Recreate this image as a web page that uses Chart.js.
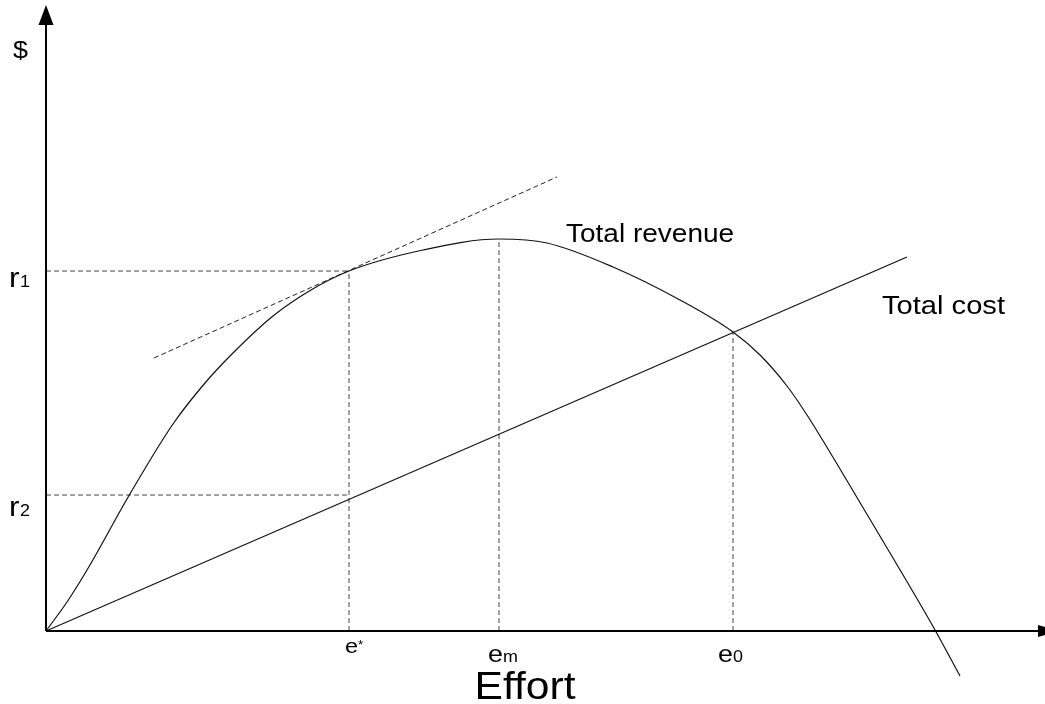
<!DOCTYPE html>
<html>
<head>
<meta charset="utf-8">
<script src="https://cdn.jsdelivr.net/npm/chart.js@4"></script>
<style>
  html, body { margin: 0; padding: 0; background: #fff; }
  #wrap { width: 1045px; height: 704px; position: relative; }
</style>
</head>
<body>
<div id="wrap"><canvas id="c"></canvas></div>
<script>
// total revenue curve (effort units / dollar units)
const effort  = [0, 21, 44, 81, 127, 159, 187, 227, 265, 303, 377, 453, 501, 567, 634, 687, 714, 741, 761, 797, 847, 889, 914];
const revenue = [0, 29, 66, 132, 207, 248, 278, 315, 341, 360, 381, 392, 388, 364, 331, 299, 276, 245, 216, 157, 73, 1, -45];

// total cost straight line
const costEffort = [0, 861];
const cost = [0, 374];

// dashed tangent at e*
const tangentEffort = [108, 511];
const tangent = [273, 454];

// x ticks: e*, em, e0 and where their guides stop
const xTickValues = [303, 453, 687];
const xTickMain = ['e', 'e', 'e'];
const xTickSub = ['*', 'm', '0'];
const xGuideTops = [360, 392, 299];

// y ticks: r1, r2
const yTickValues = [360, 136];
const yTickMain = ['r', 'r'];
const yTickSub = ['1', '2'];

const FONT = '"Liberation Sans", Arial, sans-serif';

function pts(xs, ys) {
    return xs.map((x, i) => ({ x: x, y: ys[i] }));
}

const guideStyle = {
    borderColor: '#444',
    borderWidth: 1,
    borderDash: [5, 3],
    pointRadius: 0,
    showLine: true,
    fill: false
};

const datasets = [
    {
        label: 'Total revenue',
        data: pts(effort, revenue),
        borderColor: '#111',
        borderWidth: 1.2,
        pointRadius: 0,
        showLine: true,
        cubicInterpolationMode: 'monotone'
    },
    {
        label: 'Total cost',
        data: pts(costEffort, cost),
        borderColor: '#111',
        borderWidth: 1.2,
        pointRadius: 0,
        showLine: true
    },
    Object.assign({ label: 'tangent', data: pts(tangentEffort, tangent) }, guideStyle, { borderColor: '#222' })
];

// vertical guides from the axis up to the curve
xTickValues.forEach((v, i) => {
    datasets.push(Object.assign({ label: 'v' + i, data: [{ x: v, y: 0 }, { x: v, y: xGuideTops[i] }] }, guideStyle));
});
// horizontal guides from the y axis to the e* guide
yTickValues.forEach((v, i) => {
    datasets.push(Object.assign({ label: 'h' + i, data: [{ x: 0, y: v }, { x: xTickValues[0], y: v }] }, guideStyle));
});

function txt(ctx, s, x, y, size, align) {
    ctx.save();
    ctx.font = size + 'px ' + FONT;
    ctx.fillStyle = '#000';
    ctx.textBaseline = 'alphabetic';
    ctx.textAlign = align || 'left';
    ctx.translate(x, y);
    ctx.scale(1.12, 1); // the original lettering is a bit wide
    ctx.fillText(s, 0, 0);
    ctx.restore();
}

const axesPlugin = {
    id: 'axesPlugin',
    afterDatasetsDraw: function(chart) {
        const ctx = chart.ctx;
        const xs = chart.scales.x, ys = chart.scales.y;
        const ox = xs.getPixelForValue(0), oy = ys.getPixelForValue(0);
        const topY = ys.getPixelForValue(626);
        const endX = xs.getPixelForValue(1012);

        ctx.save();
        ctx.strokeStyle = '#000';
        ctx.fillStyle = '#000';
        ctx.lineWidth = 2;
        // y axis
        ctx.beginPath();
        ctx.moveTo(ox, oy);
        ctx.lineTo(ox, topY + 15);
        ctx.stroke();
        ctx.beginPath();
        ctx.moveTo(ox, topY);
        ctx.lineTo(ox - 7.5, topY + 20);
        ctx.lineTo(ox + 7.5, topY + 20);
        ctx.closePath();
        ctx.fill();
        // x axis
        ctx.beginPath();
        ctx.moveTo(ox, oy);
        ctx.lineTo(endX - 15, oy);
        ctx.stroke();
        ctx.beginPath();
        ctx.moveTo(endX, oy);
        ctx.lineTo(endX - 20, oy - 6);
        ctx.lineTo(endX - 20, oy + 6);
        ctx.closePath();
        ctx.fill();
        ctx.restore();

        // x tick labels
        const xOff = [-4, -11, -15];
        const xBase = [653, 662, 662];
        const mainSize = [21, 24, 24];
        xTickValues.forEach((v, i) => {
            const px = xs.getPixelForValue(v) + xOff[i];
            txt(ctx, xTickMain[i], px, xBase[i], mainSize[i]);
            if (xTickSub[i] === '*') {
                txt(ctx, '*', px + 13, xBase[i] - 4, 12);
            } else {
                txt(ctx, xTickSub[i], px + 15, xBase[i], 16);
            }
        });

        // y tick labels
        yTickValues.forEach((v, i) => {
            const py = ys.getPixelForValue(v) + (i === 0 ? 16 : 21);
            txt(ctx, yTickMain[i], 9, py, 28);
            txt(ctx, yTickSub[i], 20, py, 16);
        });

        // axis titles and curve names
        txt(ctx, '$', xs.getPixelForValue(-33), ys.getPixelForValue(573), 24);
        txt(ctx, 'Effort', xs.getPixelForValue(479), ys.getPixelForValue(-68), 38, 'center');
        txt(ctx, 'Total revenue', xs.getPixelForValue(520), ys.getPixelForValue(389), 25);
        txt(ctx, 'Total cost', xs.getPixelForValue(836), ys.getPixelForValue(317), 26);
    }
};

new Chart(document.getElementById('c').getContext('2d'), {
    type: 'scatter',
    data: { datasets: datasets },
    options: {
        responsive: true,
        maintainAspectRatio: false,
        animation: false,
        events: [],
        layout: { padding: 0 },
        scales: {
            x: { type: 'linear', min: -46, max: 999, display: false },
            y: { type: 'linear', min: -73, max: 631, display: false }
        },
        plugins: {
            legend: { display: false },
            tooltip: { enabled: false }
        }
    },
    plugins: [axesPlugin]
});
</script>
</body>
</html>
